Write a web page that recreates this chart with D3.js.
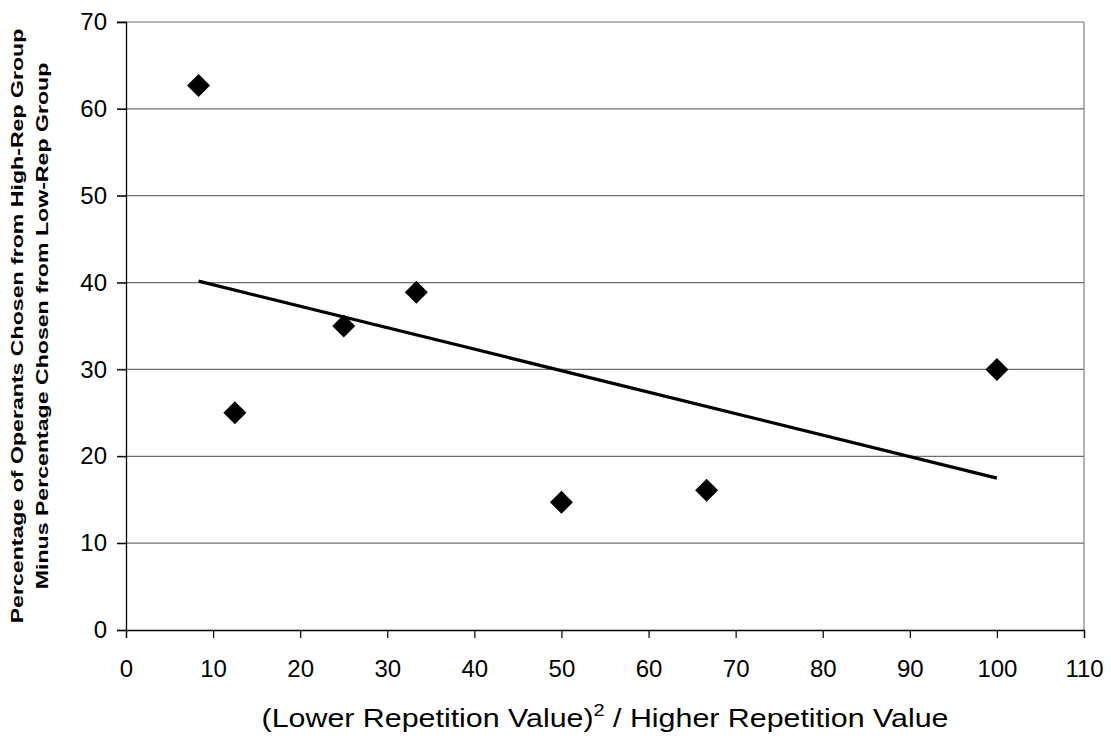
<!DOCTYPE html>
<html>
<head>
<meta charset="utf-8">
<script src="https://cdn.jsdelivr.net/npm/d3@7"></script>
<style>
  body { margin: 0; background: #fff; }
  svg { display: block; font-family: "Liberation Sans", Arial, sans-serif; }
</style>
</head>
<body>
<div id="chart"></div>
<script>
const ratioValues = [8.333, 12.5, 25, 33.333, 50, 66.667, 100];
const pctDifference = [62.7, 25, 35, 38.9, 14.7, 16.1, 30];
const xTicks = [0, 10, 20, 30, 40, 50, 60, 70, 80, 90, 100, 110];
const yTicks = [0, 10, 20, 30, 40, 50, 60, 70];

const width = 1111, height = 738;
const margin = { top: 22, right: 27, bottom: 108, left: 126 };

const svg = d3.select("#chart").append("svg")
  .attr("width", width)
  .attr("height", height);

const x = d3.scaleLinear().domain([0, 110]).range([margin.left, width - margin.right]);
const y = d3.scaleLinear().domain([0, 70]).range([height - margin.bottom, margin.top]);

// gridlines
svg.append("g")
  .selectAll("line")
  .data(yTicks.filter(d => d > 0))
  .enter().append("line")
  .attr("x1", x(0) - 9).attr("x2", x(110))
  .attr("y1", d => y(d)).attr("y2", d => y(d))
  .attr("stroke", "#6e6e6e")
  .attr("stroke-width", 1.2);

// right border
svg.append("line")
  .attr("x1", x(110)).attr("x2", x(110))
  .attr("y1", y(0)).attr("y2", y(70))
  .attr("stroke", "#808080")
  .attr("stroke-width", 1.2);

const xAxis = svg.append("g")
  .attr("transform", `translate(0,${y(0)})`)
  .call(d3.axisBottom(x).tickValues(xTicks).tickSizeOuter(0).tickSize(8).tickPadding(22));

const yAxis = svg.append("g")
  .attr("transform", `translate(${x(0)},0)`)
  .call(d3.axisLeft(y).tickValues(yTicks).tickSizeOuter(0).tickSize(9).tickPadding(10));

[xAxis, yAxis].forEach(g => {
  g.select(".domain").attr("stroke", "#000").attr("stroke-width", 1.3);
  g.selectAll(".tick line").attr("stroke", "#000").attr("stroke-width", 1.2);
  g.selectAll("text")
    .attr("fill", "#000")
    .style("font-size", "24px")
    .style("font-family", "'Liberation Sans', Arial, sans-serif");
});
xAxis.selectAll("text").attr("dy", null).attr("y", 47);

// linear trendline
const n = ratioValues.length;
const mx = d3.mean(ratioValues), my = d3.mean(pctDifference);
let sxy = 0, sxx = 0;
for (let i = 0; i < n; i++) {
  sxy += (ratioValues[i] - mx) * (pctDifference[i] - my);
  sxx += (ratioValues[i] - mx) ** 2;
}
const slope = sxy / sxx, intercept = my - slope * mx;
const xMin = d3.min(ratioValues), xMax = d3.max(ratioValues);

svg.append("line")
  .attr("x1", x(xMin)).attr("y1", y(intercept + slope * xMin))
  .attr("x2", x(xMax)).attr("y2", y(intercept + slope * xMax))
  .attr("stroke", "#000")
  .attr("stroke-width", 3.2);

// diamond markers
const r = 11.5;
svg.append("g")
  .selectAll("path")
  .data(ratioValues.map((v, i) => [v, pctDifference[i]]))
  .enter().append("path")
  .attr("transform", d => `translate(${x(d[0])},${y(d[1])})`)
  .attr("d", `M0,${-r}L${r},0L0,${r}L${-r},0Z`)
  .attr("fill", "#000");

// x axis title
const xTitleG = svg.append("g");
const xTitle = xTitleG.append("text")
  .attr("x", 0)
  .attr("y", 0)
  .attr("text-anchor", "middle")
  .style("font-size", "26px")
  .attr("fill", "#000");
xTitle.append("tspan").text("(Lower Repetition Value)");
xTitle.append("tspan").attr("dy", -11).style("font-size", "17px").text("2");
xTitle.append("tspan").attr("dy", 11).text(" / Higher Repetition Value");
const xw = xTitle.node().getBBox().width;
xTitleG.attr("transform", `translate(${(x(0) + x(110)) / 2},727) scale(${687 / xw},1)`);

// y axis title
const yTitleG = svg.append("g");
const yTitle = yTitleG.append("text")
  .attr("text-anchor", "middle")
  .style("font-size", "16px")
  .style("font-weight", "bold")
  .attr("fill", "#000");
const line1 = yTitle.append("tspan").attr("x", 0).attr("y", 23.5).text("Percentage of Operants Chosen from High-Rep Group");
yTitle.append("tspan").attr("x", 0).attr("y", 48.5).text("Minus Percentage Chosen from Low-Rep Group");
const yw = line1.node().getComputedTextLength();
yTitleG.attr("transform", `translate(0,${(y(0) + y(70)) / 2}) rotate(-90) scale(${595 / yw},1)`);
</script>
</body>
</html>
